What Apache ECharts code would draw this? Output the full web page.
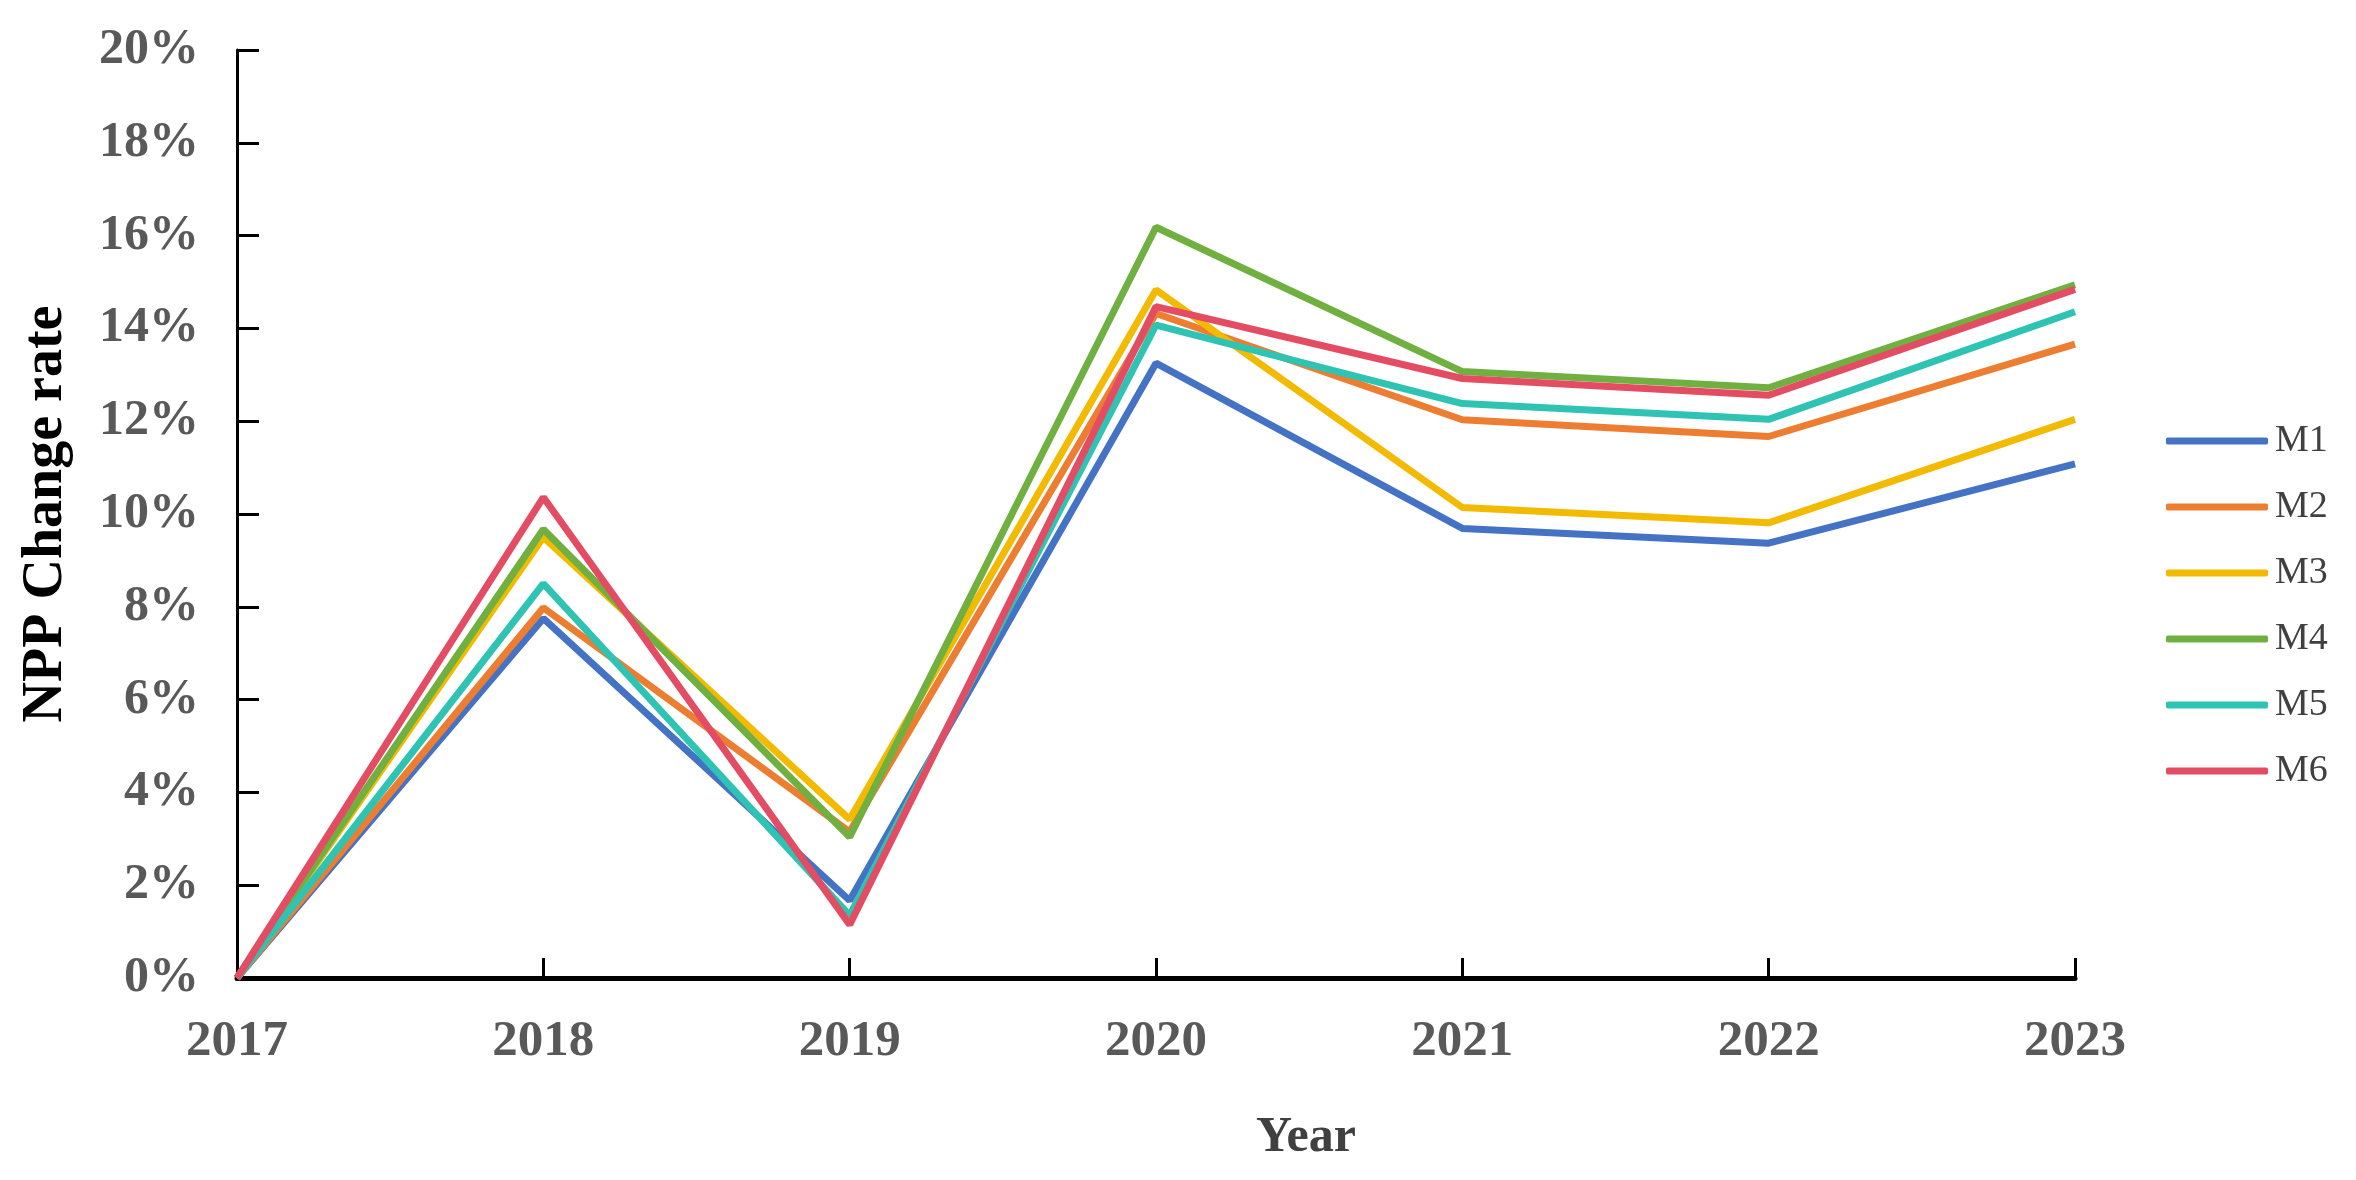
<!DOCTYPE html>
<html>
<head>
<meta charset="utf-8">
<script src="https://cdn.jsdelivr.net/npm/echarts@6/dist/echarts.min.js"></script>
<style>html,body{margin:0;padding:0;background:#fff}#c{width:2356px;height:1180px}</style>
</head>
<body>
<div id="c"></div>
<script>
const years = ['2017','2018','2019','2020','2021','2022','2023'];
const seriesNames = ['M1','M2','M3','M4','M5','M6'];
const M1 = [0, 7.75, 1.67, 13.25, 9.69, 9.37, 11.08];
const M2 = [0, 7.98, 3.15, 14.32, 12.03, 11.67, 13.66];
const M3 = [0, 9.50, 3.42, 14.83, 10.14, 9.81, 12.04];
const M4 = [0, 9.67, 3.04, 16.18, 13.07, 12.72, 14.94];
const M5 = [0, 8.50, 1.35, 14.07, 12.38, 12.04, 14.36];
const M6 = [0, 10.36, 1.15, 14.47, 12.92, 12.56, 14.84];
const colors = ['#4472C4','#ED7D31','#F2BA00','#70B040','#2EC3B3','#E34C62'];
const yTicks = {min: 0, max: 20, interval: 2};

const allData = [M1, M2, M3, M4, M5, M6];
const serif = '"Liberation Serif","DejaVu Serif",serif';
const chart = echarts.init(document.getElementById('c'));
chart.setOption({
  animation: false,
  color: colors,
  grid: {left: 237, right: 281, top: 50, bottom: 202},
  legend: {
    orient: 'vertical', left: 2161, top: 417,
    itemWidth: 102, itemHeight: 7, itemGap: 28,
    icon: 'roundRect',
    textStyle: {fontFamily: serif, fontSize: 38, color: '#404040', padding: [0,0,0,2]},
    data: seriesNames
  },
  xAxis: {
    type: 'category', data: years, boundaryGap: false,
    name: 'Year', nameLocation: 'middle', nameGap: 135,
    nameTextStyle: {fontFamily: serif, fontSize: 50, fontWeight: 'bold', color: '#404040', padding: [0,0,0,300]},
    axisLine: {lineStyle: {color: '#000', width: 5}},
    axisTick: {inside: true, length: 20, lineStyle: {color: '#000', width: 3}, alignWithLabel: true},
    axisLabel: {fontFamily: serif, fontSize: 51, fontWeight: 'bold', color: '#595959', margin: 38},
    splitLine: {show: false}
  },
  yAxis: {
    type: 'value', min: yTicks.min, max: yTicks.max, interval: yTicks.interval,
    name: 'NPP Change rate', nameLocation: 'middle', nameGap: 162,
    nameTextStyle: {fontFamily: serif, fontSize: 56, fontWeight: 'bold', color: '#000'},
    axisLine: {show: true, lineStyle: {color: '#000', width: 3}},
    axisTick: {show: true, inside: true, length: 22, lineStyle: {color: '#000', width: 3}},
    axisLabel: {fontFamily: serif, fontSize: 50, fontWeight: 'bold', color: '#595959', margin: 38, formatter: '{value}%'},
    splitLine: {show: false}
  },
  series: seriesNames.map((n, i) => ({
    name: n, type: 'line', data: allData[i], symbol: 'none',
    lineStyle: {width: 7, color: colors[i]}, itemStyle: {color: colors[i]}
  }))
});
</script>
</body>
</html>
